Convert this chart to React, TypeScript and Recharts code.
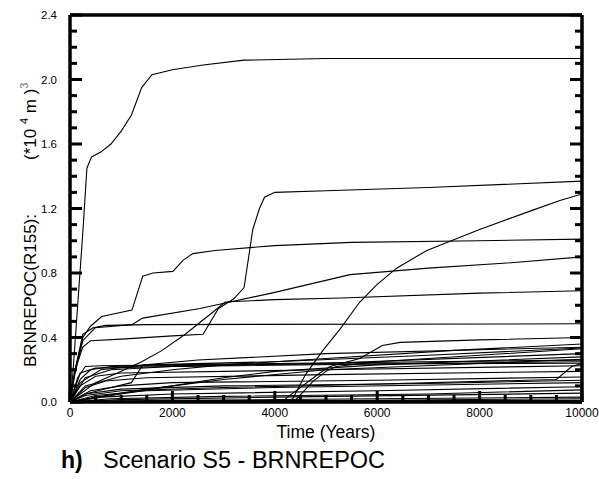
import React from "react";
import { LineChart, Line, XAxis, YAxis } from "recharts";

type Pt = [number, number];

// tick positions (years / volume)
const xTicks = [0, 500, 1000, 1500, 2000, 2500, 3000, 3500, 4000, 4500, 5000, 5500, 6000, 6500, 7000, 7500, 8000, 8500, 9000, 9500, 10000];
const xLabels = ["0", "2000", "4000", "6000", "8000", "10000"];
const yTicks = [0, 0.1, 0.2, 0.3, 0.4, 0.5, 0.6, 0.7, 0.8, 0.9, 1.0, 1.1, 1.2, 1.3, 1.4, 1.5, 1.6, 1.7, 1.8, 1.9, 2.0, 2.1, 2.2, 2.3, 2.4];
const yLabels = ["0.0", "0.4", "0.8", "1.2", "1.6", "2.0", "2.4"];

// big curves
const s01: Pt[] = [[0, 0], [50, 0.15], [150, 0.6], [250, 1.05], [330, 1.45], [420, 1.52], [600, 1.55], [800, 1.6], [1000, 1.68], [1200, 1.78], [1400, 1.95], [1600, 2.03], [2000, 2.06], [2600, 2.09], [3400, 2.12], [5000, 2.13], [10000, 2.13]];
const s02: Pt[] = [[0, 0], [100, 0.2], [250, 0.34], [400, 0.38], [1000, 0.39], [2000, 0.41], [2600, 0.42], [2900, 0.58], [3200, 0.64], [3400, 0.71], [3570, 1.07], [3700, 1.2], [3800, 1.27], [4000, 1.3], [5000, 1.31], [7000, 1.33], [10000, 1.37]];
const s03: Pt[] = [[0, 0], [100, 0.2], [250, 0.4], [400, 0.47], [620, 0.53], [1210, 0.57], [1420, 0.78], [1620, 0.8], [2010, 0.81], [2210, 0.88], [2400, 0.92], [2830, 0.94], [4000, 0.97], [5500, 0.99], [8000, 1.0], [10000, 1.01]];
const s04: Pt[] = [[0, 0], [4200, 0], [4350, 0.02], [4600, 0.17], [4940, 0.32], [5270, 0.45], [5660, 0.62], [6000, 0.73], [6380, 0.83], [6970, 0.94], [8000, 1.07], [9040, 1.19], [9570, 1.25], [10000, 1.29]];
const s05: Pt[] = [[0, 0], [100, 0.18], [250, 0.38], [490, 0.46], [1210, 0.48], [1420, 0.52], [2540, 0.58], [2830, 0.6], [4000, 0.68], [5470, 0.79], [7000, 0.83], [8460, 0.86], [10000, 0.9]];
const s06: Pt[] = [[0, 0], [100, 0.2], [250, 0.42], [450, 0.46], [700, 0.475], [1500, 0.48], [10000, 0.485]];
const s07: Pt[] = [[0, 0], [200, 0.05], [500, 0.12], [1000, 0.19], [1400, 0.25], [1800, 0.32], [2250, 0.42], [2800, 0.56], [3030, 0.62], [4000, 0.635], [5300, 0.645], [8000, 0.675], [10000, 0.69]];
const s08: Pt[] = [[0, 0], [4150, 0], [4250, 0.03], [4880, 0.18], [5080, 0.22], [5660, 0.27], [6100, 0.35], [6450, 0.37], [8000, 0.385], [10000, 0.4]];
const s09: Pt[] = [[0, 0], [300, 0.04], [1000, 0.07], [3000, 0.09], [5270, 0.105], [9500, 0.14], [9800, 0.22], [10000, 0.24]];
const s10: Pt[] = [[0, 0], [4400, 0.01], [4750, 0.13], [5000, 0.19], [5200, 0.22], [6000, 0.25], [8000, 0.29], [10000, 0.33]];
const k01: Pt[] = [[0, 0], [300, 0.05], [800, 0.09], [1200, 0.12], [1420, 0.23], [2500, 0.26], [5000, 0.3], [10000, 0.34]];

// middle bundle
const m01: Pt[] = [[0, 0], [300, 0.1], [1000, 0.16], [2000, 0.2], [3000, 0.23], [5000, 0.27], [7500, 0.32], [10000, 0.36]];
const m02: Pt[] = [[0, 0], [200, 0.12], [600, 0.2], [1500, 0.23], [4000, 0.25], [7000, 0.29], [10000, 0.335]];
const m03: Pt[] = [[0, 0], [300, 0.15], [800, 0.2], [2000, 0.22], [5000, 0.24], [10000, 0.3]];
const m04: Pt[] = [[0, 0], [1000, 0.05], [2000, 0.1], [3000, 0.15], [4000, 0.19], [6000, 0.23], [10000, 0.28]];
const m05: Pt[] = [[0, 0], [500, 0.03], [1500, 0.08], [3000, 0.14], [5000, 0.2], [10000, 0.265]];
const m06: Pt[] = [[0, 0], [200, 0.18], [500, 0.21], [2000, 0.22], [10000, 0.25]];

// bottom bundle
const b01: Pt[] = [[0, 0], [150, 0.15], [300, 0.22], [600, 0.225], [3000, 0.235], [10000, 0.26]];
const b02: Pt[] = [[0, 0], [200, 0.14], [400, 0.2], [800, 0.22], [4000, 0.235], [10000, 0.24]];
const b03: Pt[] = [[0, 0], [200, 0.1], [500, 0.16], [1000, 0.18], [5000, 0.2], [10000, 0.225]];
const b04: Pt[] = [[0, 0], [300, 0.09], [700, 0.13], [1500, 0.15], [5000, 0.17], [10000, 0.19]];
const b05: Pt[] = [[0, 0], [400, 0.07], [1000, 0.1], [2000, 0.12], [6000, 0.135], [10000, 0.155]];
const b06: Pt[] = [[0, 0], [300, 0.05], [1000, 0.08], [3000, 0.1], [7000, 0.115], [10000, 0.135]];
const b07: Pt[] = [[0, 0], [500, 0.04], [1500, 0.07], [4000, 0.09], [10000, 0.12]];
const b08: Pt[] = [[0, 0], [600, 0.03], [2000, 0.05], [6000, 0.07], [10000, 0.095]];
const b09: Pt[] = [[0, 0], [800, 0.02], [3000, 0.035], [7000, 0.05], [10000, 0.075]];
const b10: Pt[] = [[0, 0], [1000, 0.015], [4000, 0.03], [10000, 0.055]];
const b11: Pt[] = [[0, 0], [2000, 0.01], [6000, 0.02], [10000, 0.03]];
const b12: Pt[] = [[0, 0], [3000, 0.005], [10000, 0.02]];
const b13: Pt[] = [[0, 0], [1000, 0.005], [10000, 0.01]];

const allSeries: Pt[][] = [
  s01, s02, s03, s04, s05, s06, s07, s08, s09, s10, k01,
  m01, m02, m03, m04, m05, m06,
  b01, b02, b03, b04, b05, b06, b07, b08, b09, b10, b11, b12, b13,
];

const FONT = "'Liberation Sans', Arial, sans-serif";
const FRAME = { stroke: "#000", strokeWidth: 3.5 };

const isXMajor = (v: number) => xLabels.includes(String(v));
const yLabelFor = (v: number) => yLabels.find(l => Math.abs(parseFloat(l) - v) < 1e-6);

const BottomTick = (props: any) => {
  const { x, y, payload } = props;
  const major = isXMajor(payload.value);
  return (
    <g>
      <line x1={x} y1={y} x2={x} y2={y - (major ? 11 : 7)} stroke="#000" strokeWidth={3} />
      {major && (
        <text x={x} y={y + 15} textAnchor="middle" fontSize={12} fontFamily={FONT} fill="#000">
          {payload.value}
        </text>
      )}
    </g>
  );
};

const TopTick = (props: any) => {
  const { x, y, payload } = props;
  const major = isXMajor(payload.value);
  return <line x1={x} y1={y} x2={x} y2={y + (major ? 11 : 7)} stroke="#000" strokeWidth={3} />;
};

const LeftTick = (props: any) => {
  const { x, y, payload } = props;
  const label = yLabelFor(payload.value);
  return (
    <g>
      <line x1={x} y1={y} x2={x + (label ? 12 : 7)} y2={y} stroke="#000" strokeWidth={3} />
      {label && (
        <text x={x - 13} y={y + 4} textAnchor="end" fontSize={11.5} fontFamily={FONT} fill="#000">
          {label}
        </text>
      )}
    </g>
  );
};

const RightTick = (props: any) => {
  const { x, y, payload } = props;
  const label = yLabelFor(payload.value);
  return <line x1={x} y1={y} x2={x - (label ? 12 : 7)} y2={y} stroke="#000" strokeWidth={3} />;
};

const YTitle = () => (
  <g fontFamily={FONT} fill="#000">
    <text x={36} y={367} transform="rotate(-90 36 367)" fontSize={17}>
      BRNREPOC(R155):
    </text>
    <text x={36} y={160} transform="rotate(-90 36 160)" fontSize={17}>
      {"(*10 "}
      <tspan fontSize={11} dy={-8}>4</tspan>
      <tspan dy={8}>{" m "}</tspan>
      <tspan dy={0}>)</tspan>
      <tspan fontSize={11} dy={-8} fill="#777">3</tspan>
    </text>
  </g>
);

const XTitle = () => (
  <g fontFamily={FONT} fill="#000">
    <text x={326} y={438} textAnchor="middle" fontSize={17.5}>
      Time (Years)
    </text>
    <text x={61} y={468} fontSize={23} fontWeight="bold">
      h)
    </text>
    <text x={103} y={468} fontSize={23.5}>
      Scenario S5 - BRNREPOC
    </text>
  </g>
);

export default function App() {
  return (
    <div style={{ position: "absolute", left: 0, top: 0, width: 599, height: 479, background: "#fff" }}>
      <LineChart width={599} height={479} margin={{ top: 14, right: 16, bottom: 0, left: 0 }}>
        <XAxis
          xAxisId={0}
          type="number"
          dataKey="t"
          domain={[0, 10000]}
          allowDataOverflow
          ticks={xTicks}
          interval={0}
          height={77}
          tickSize={0}
          tickMargin={0}
          tickLine={false}
          tick={<BottomTick />}
          axisLine={FRAME}
          label={<XTitle />}
        />
        <XAxis
          xAxisId="top"
          orientation="top"
          type="number"
          domain={[0, 10000]}
          allowDataOverflow
          ticks={xTicks}
          interval={0}
          height={1}
          tickSize={0}
          tickMargin={0}
          tickLine={false}
          tick={<TopTick />}
          axisLine={FRAME}
        />
        <YAxis
          yAxisId={0}
          type="number"
          domain={[0, 2.4]}
          allowDataOverflow
          ticks={yTicks}
          interval={0}
          width={70}
          tickSize={0}
          tickMargin={0}
          tickLine={false}
          tick={<LeftTick />}
          axisLine={FRAME}
          label={<YTitle />}
        />
        <YAxis
          yAxisId="r"
          orientation="right"
          type="number"
          domain={[0, 2.4]}
          allowDataOverflow
          ticks={yTicks}
          interval={0}
          width={1}
          tickSize={0}
          tickMargin={0}
          tickLine={false}
          tick={<RightTick />}
          axisLine={FRAME}
        />
        {allSeries.map((s, i) => (
          <Line
            key={i}
            xAxisId={0}
            yAxisId={0}
            data={s.map(([t, v]) => ({ t, v }))}
            dataKey="v"
            type="linear"
            stroke="#000"
            strokeWidth={1.1}
            dot={false}
            activeDot={false}
            isAnimationActive={false}
          />
        ))}
      </LineChart>
    </div>
  );
}
